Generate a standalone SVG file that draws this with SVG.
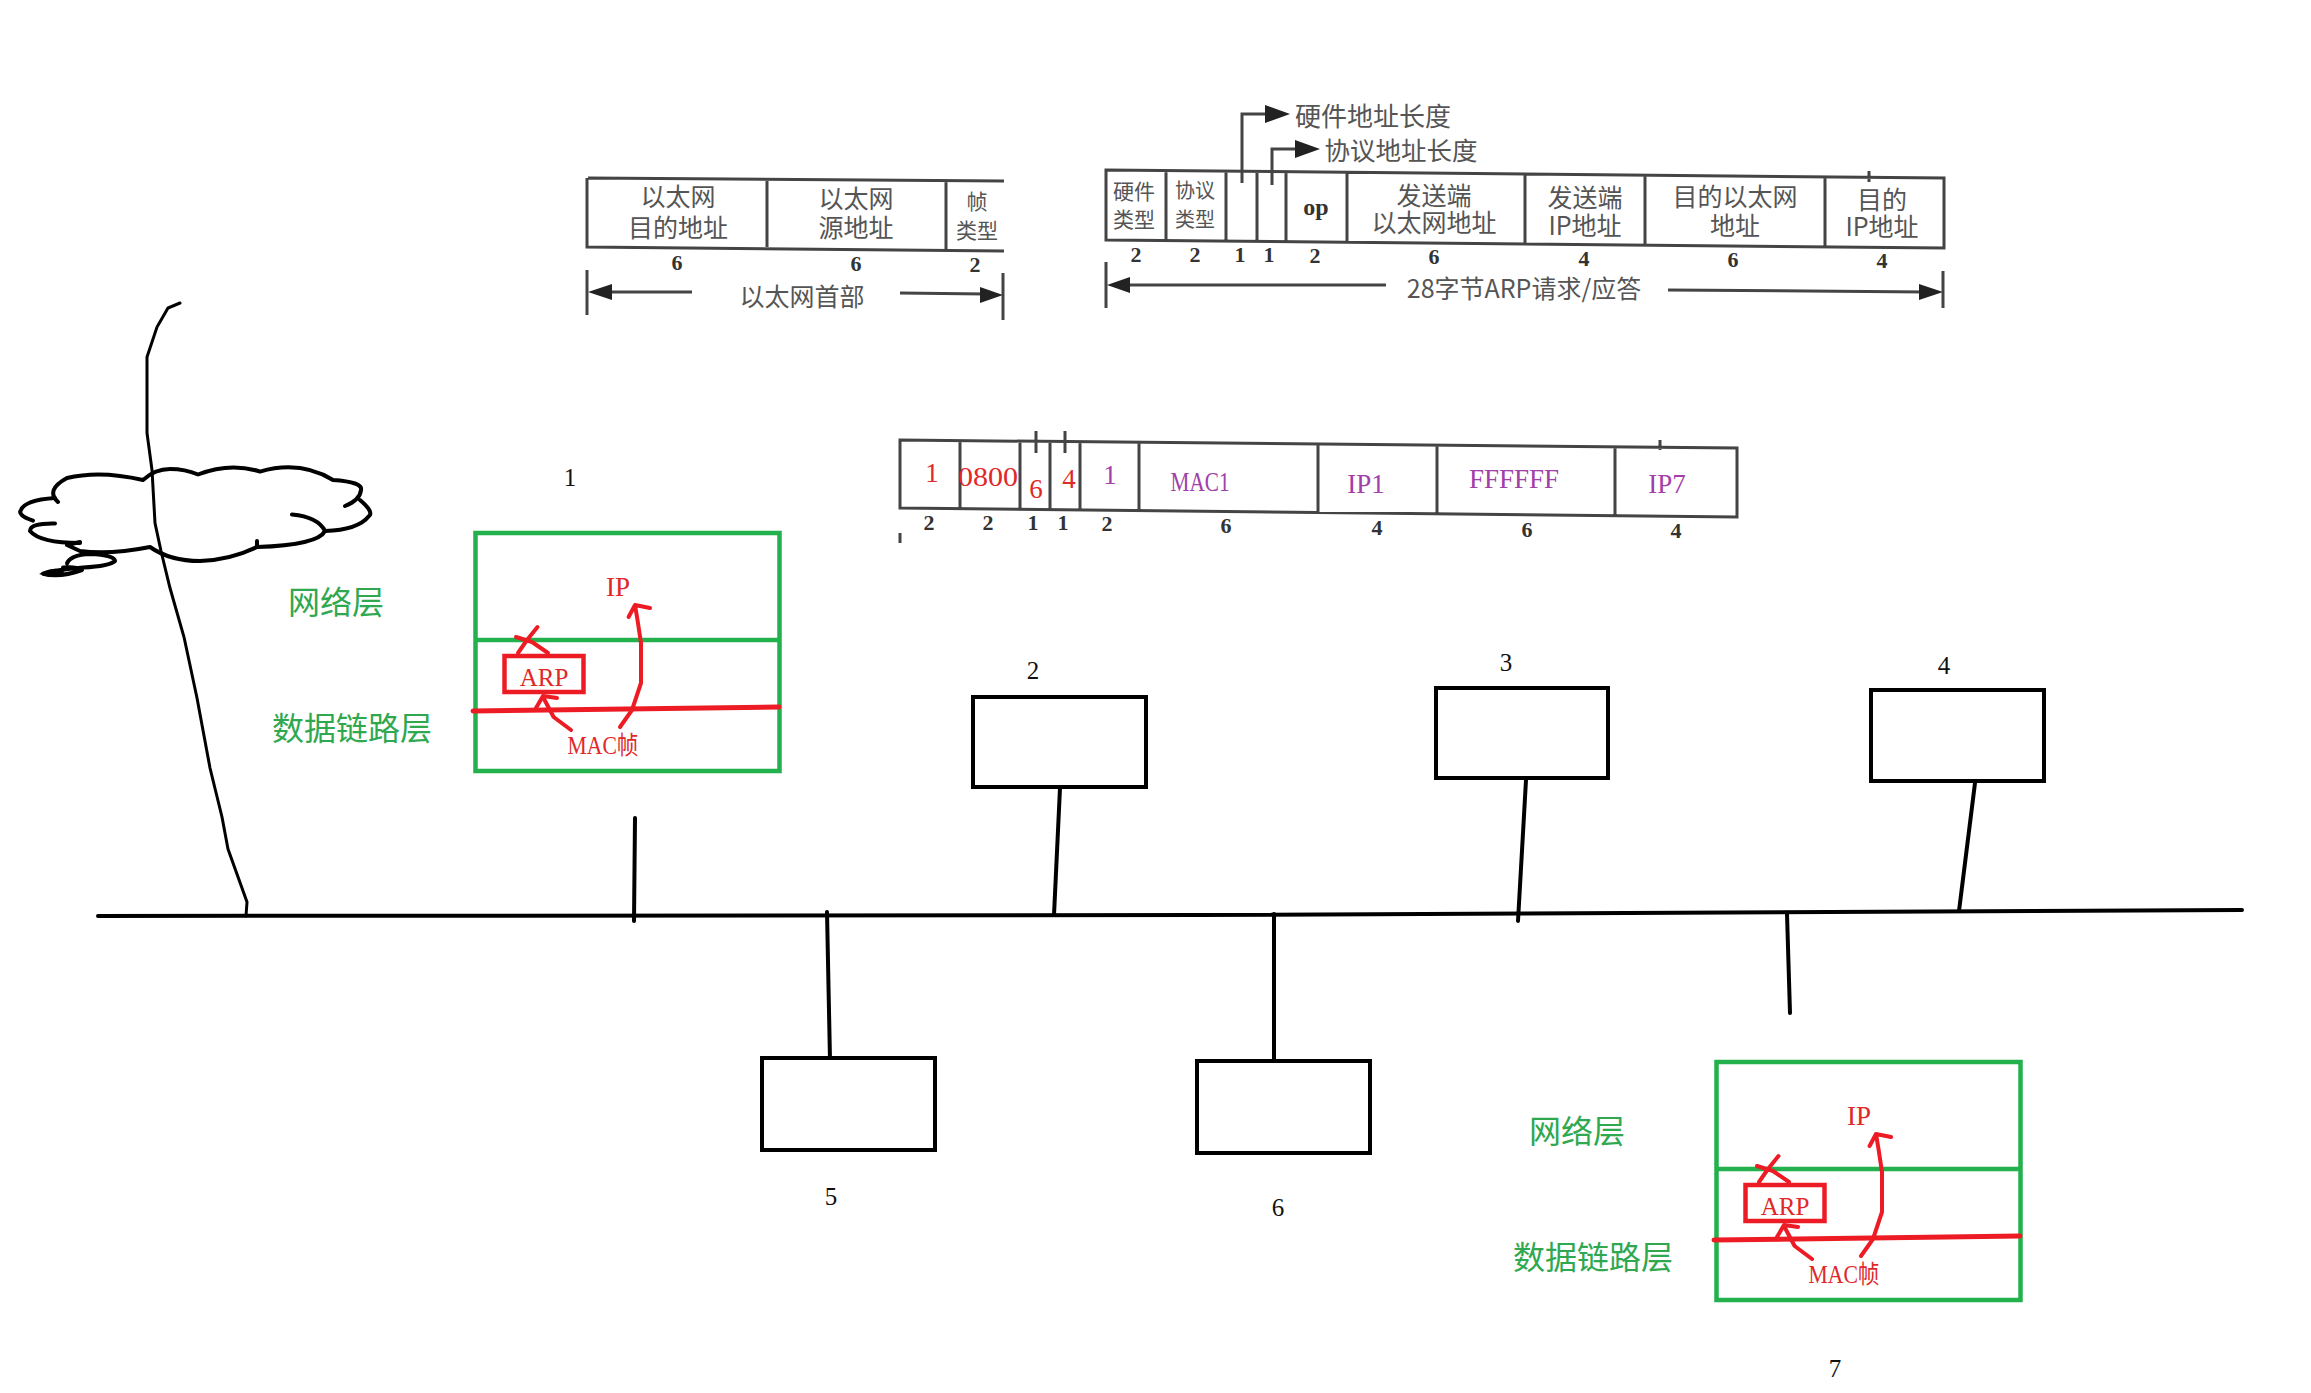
<svg xmlns="http://www.w3.org/2000/svg" width="2311" height="1393" viewBox="0 0 2311 1393">
<style>
text{text-anchor:middle;dominant-baseline:central}
.cjk{font-family:"Noto Sans CJK SC","Liberation Serif",sans-serif;fill:#555}
.num{font-family:"Liberation Serif",serif;font-weight:bold;font-size:22px;fill:#333}
.lbl{font-family:"Liberation Serif",serif;font-size:25px;fill:#111}
.red{font-family:"Liberation Serif",serif;font-size:27px;fill:#e02828}
.pur{font-family:"Liberation Serif",serif;font-size:27px;fill:#a040a8}
.grn{font-family:"Noto Sans CJK SC",sans-serif;font-size:32px;fill:#2fa84f}
.tb{fill:none;stroke:#444;stroke-width:3}
.hand{fill:none;stroke:#000;stroke-width:4;stroke-linecap:round;stroke-linejoin:round}
.wire{fill:none;stroke:#000;stroke-width:4;stroke-linecap:round}
.box{fill:#fff;stroke:#000;stroke-width:4}
.gl{fill:none;stroke:#22b14c;stroke-width:4.5}
.rl{fill:none;stroke:#ed1c24;stroke-width:4;stroke-linecap:round;stroke-linejoin:round}
.ah{fill:#222}
</style>
<rect width="2311" height="1393" fill="#fff"/>

<g id="ethernet-header">
<path class="tb" d="M588 178L1004 181M587 178L587 247L1004 251M767 179V247M946 181V251"/>
<text class="cjk" font-size="25" x="678" y="195">以太网</text>
<text class="cjk" font-size="25" x="678" y="226">目的地址</text>
<text class="cjk" font-size="25" x="856" y="197">以太网</text>
<text class="cjk" font-size="25" x="856" y="226">源地址</text>
<text class="cjk" font-size="21" x="977" y="200">帧</text>
<text class="cjk" font-size="21" x="977" y="229">类型</text>
<text class="num" x="677" y="262">6</text><text class="num" x="856" y="263">6</text><text class="num" x="975" y="264">2</text>
<path class="tb" d="M587 270V315M1003 273V320M612 292H692M900 293L985 294"/>
<path class="ah" d="M588 292L612 284V300Z"/><path class="ah" d="M1003 295L980 287V303Z"/>
<text class="cjk" font-size="25" x="802" y="295">以太网首部</text>
</g>

<g id="arp-format">
<path class="tb" d="M1106 170L1944 178V248L1106 240ZM1166 171V241M1226 171V241M1257 172V242M1286 172V242M1347 173V243M1525 174V245M1645 176V246M1825 177V247M1869 171V182"/>
<path class="tb" d="M1242 183V114H1270M1272 185V149H1300"/>
<path class="ah" d="M1290 114L1265 105V123Z"/><path class="ah" d="M1320 149L1295 140V158Z"/>
<text class="cjk" font-size="26" x="1373" y="114">硬件地址长度</text>
<text class="cjk" font-size="25.500" x="1401" y="148">协议地址长度</text>
<text class="cjk" font-size="21" x="1134" y="190">硬件</text><text class="cjk" font-size="21" x="1134" y="218">类型</text>
<text class="cjk" font-size="20" x="1195" y="189">协议</text><text class="cjk" font-size="20" x="1195" y="218">类型</text>
<text class="num" style="font-size:24px" x="1316" y="207">op</text>
<text class="cjk" font-size="25" x="1434" y="194">发送端</text><text class="cjk" font-size="25" x="1434" y="221">以太网地址</text>
<text class="cjk" font-size="25" x="1585" y="196">发送端</text><text class="cjk" font-size="25" x="1585" y="224">IP地址</text>
<text class="cjk" font-size="25" x="1735" y="195">目的以太网</text><text class="cjk" font-size="25" x="1735" y="224">地址</text>
<text class="cjk" font-size="25" x="1882" y="198">目的</text><text class="cjk" font-size="25" x="1882" y="225">IP地址</text>
<text class="num" x="1136" y="254">2</text><text class="num" x="1195" y="254">2</text><text class="num" x="1240" y="254">1</text><text class="num" x="1269" y="254">1</text><text class="num" x="1315" y="255">2</text><text class="num" x="1434" y="256">6</text><text class="num" x="1584" y="258">4</text><text class="num" x="1733" y="259">6</text><text class="num" x="1882" y="260">4</text>
<path class="tb" d="M1106 262V308M1943 271V308M1128 285H1386M1668 290L1926 292"/>
<path class="ah" d="M1107 285L1130 277V293Z"/><path class="ah" d="M1943 292L1919 284V300Z"/>
<text class="cjk" font-size="25" x="1524" y="287">28字节ARP请求/应答</text>
</g>

<g id="arp-request-filled">
<path class="tb" d="M900 440L1737 448V517L900 508ZM960 441V509M1020 441V509M1050 442V510M1080 442V510M1139 443V511M1318 445V512M1437 446V514M1615 447V515M1036 431V453M1065 431V453M1660 440V450M900 533V543"/>
<text class="red" x="932" y="473">1</text><text class="red" x="988" y="477" textLength="60" lengthAdjust="spacingAndGlyphs">0800</text><text class="red" x="1036" y="489">6</text><text class="red" x="1069" y="479">4</text>
<text class="pur" x="1110" y="475">1</text>
<text class="pur" x="1200" y="482" textLength="59" lengthAdjust="spacingAndGlyphs">MAC1</text>
<text class="pur" x="1366" y="484">IP1</text>
<text class="pur" x="1514" y="479">FFFFFF</text>
<text class="pur" x="1667" y="484">IP7</text>
<text class="num" x="929" y="522">2</text><text class="num" x="988" y="522">2</text><text class="num" x="1033" y="522">1</text><text class="num" x="1063" y="522">1</text><text class="num" x="1107" y="523">2</text><text class="num" x="1226" y="525">6</text><text class="num" x="1377" y="527">4</text><text class="num" x="1527" y="529">6</text><text class="num" x="1676" y="530">4</text>
</g>

<g id="connectors">
<path class="wire" d="M98 916L1200 915L2242 910"/>
<path class="wire" d="M635 818L634 921M1060 788L1054 915M1526 780L1518 921M1975 783L1959 911M827 912L830 1060M1274 914V1061M1787 914L1790 1013"/>
<path class="wire" style="stroke-width:3" d="M180 303L168 308L157 327L147 357L147 433L152 470L155 523L161 551L170 588L184 637L197 698L210 768L222 817L228 849L247 902L246 916"/>
</g>

<g id="cloud">
<path class="hand" d="M58 502Q45 490 67 478Q100 470 143 480Q155 469 170 469Q185 469 198 474.500Q230 462 260 471.600Q300 460 333 480Q363 482 361 490Q360 500 345 506"/>
<path class="hand" d="M360 500Q374 512 369 516Q358 530 325 531"/>
<path class="hand" d="M292 514.500Q318 517 325 531Q318 545 257 547L257 541M257 547Q230 560 200 561Q170 561 150 547Q110 555 80 551L67 545L80 542"/>
<path class="hand" d="M80 543Q40 543 30 531Q30 523 55 523.500M33 520.600Q17 515 21 510Q25 500 55 498"/>
<path class="hand" d="M67 563.500Q70 555 90 554Q115 555 115 561Q110 566 83 567.600Q55 570 43 573.700Q60 578 82 570Q75 566 63 567.600"/>
<path d="M43 573.700Q55 568 62 572Q55 578 43 573.700Z" fill="#000" stroke="#000" stroke-width="3"/>
</g>

<g id="node-1">
<text class="lbl" x="570" y="477">1</text>
<rect class="gl" x="475.500" y="533" width="304" height="238"/>
<path class="gl" d="M477 640H780"/>
<path class="rl" style="stroke-width:5" d="M473 711L779 707"/>
<rect x="504.500" y="656" width="79" height="36" fill="none" stroke="#ed1c24" stroke-width="4.500"/>
<path class="rl" d="M620 727L632 710L641 683L641 643L637.500 620L635 605M628.600 617L635 605L650 608M571 730L553.600 717L543 697M536 708L543 696L557 698M518 653L527 640L537.500 627M516 637L532 642L548 653"/>
<text class="red" x="618" y="587">IP</text>
<text class="red" style="font-size:25px" x="544" y="677">ARP</text>
<text class="red" style="font-family:'Liberation Serif','Noto Sans CJK SC',serif;font-size:25px" x="603" y="745" textLength="71" lengthAdjust="spacingAndGlyphs">MAC帧</text>
<text class="grn" x="336" y="600">网络层</text>
<text class="grn" x="352" y="726">数据链路层</text>
</g>

<g id="node-2"><text class="lbl" x="1033" y="670">2</text><rect class="box" x="973" y="697" width="173" height="90"/></g>
<g id="node-3"><text class="lbl" x="1506" y="662">3</text><rect class="box" x="1436" y="688" width="172" height="90"/></g>
<g id="node-4"><text class="lbl" x="1944" y="665">4</text><rect class="box" x="1871" y="690" width="173" height="91"/></g>
<g id="node-5"><rect class="box" x="762" y="1058" width="173" height="92"/><text class="lbl" x="831" y="1196">5</text></g>
<g id="node-6"><rect class="box" x="1197" y="1061" width="173" height="92"/><text class="lbl" x="1278" y="1207">6</text></g>

<g id="node-7" transform="translate(1241 529)">
<rect class="gl" x="475.500" y="533" width="304" height="238"/>
<path class="gl" d="M477 640H780"/>
<path class="rl" style="stroke-width:5" d="M473 711L779 707"/>
<rect x="504.500" y="656" width="79" height="36" fill="none" stroke="#ed1c24" stroke-width="4.500"/>
<path class="rl" d="M620 727L632 710L641 683L641 643L637.500 620L635 605M628.600 617L635 605L650 608M571 730L553.600 717L543 697M536 708L543 696L557 698M518 653L527 640L537.500 627M516 637L532 642L548 653"/>
<text class="red" x="618" y="587">IP</text>
<text class="red" style="font-size:25px" x="544" y="677">ARP</text>
<text class="red" style="font-family:'Liberation Serif','Noto Sans CJK SC',serif;font-size:25px" x="603" y="745" textLength="71" lengthAdjust="spacingAndGlyphs">MAC帧</text>
<text class="grn" x="336" y="600">网络层</text>
<text class="grn" x="352" y="726">数据链路层</text>
<text class="lbl" x="594" y="839">7</text>
</g>
</svg>
